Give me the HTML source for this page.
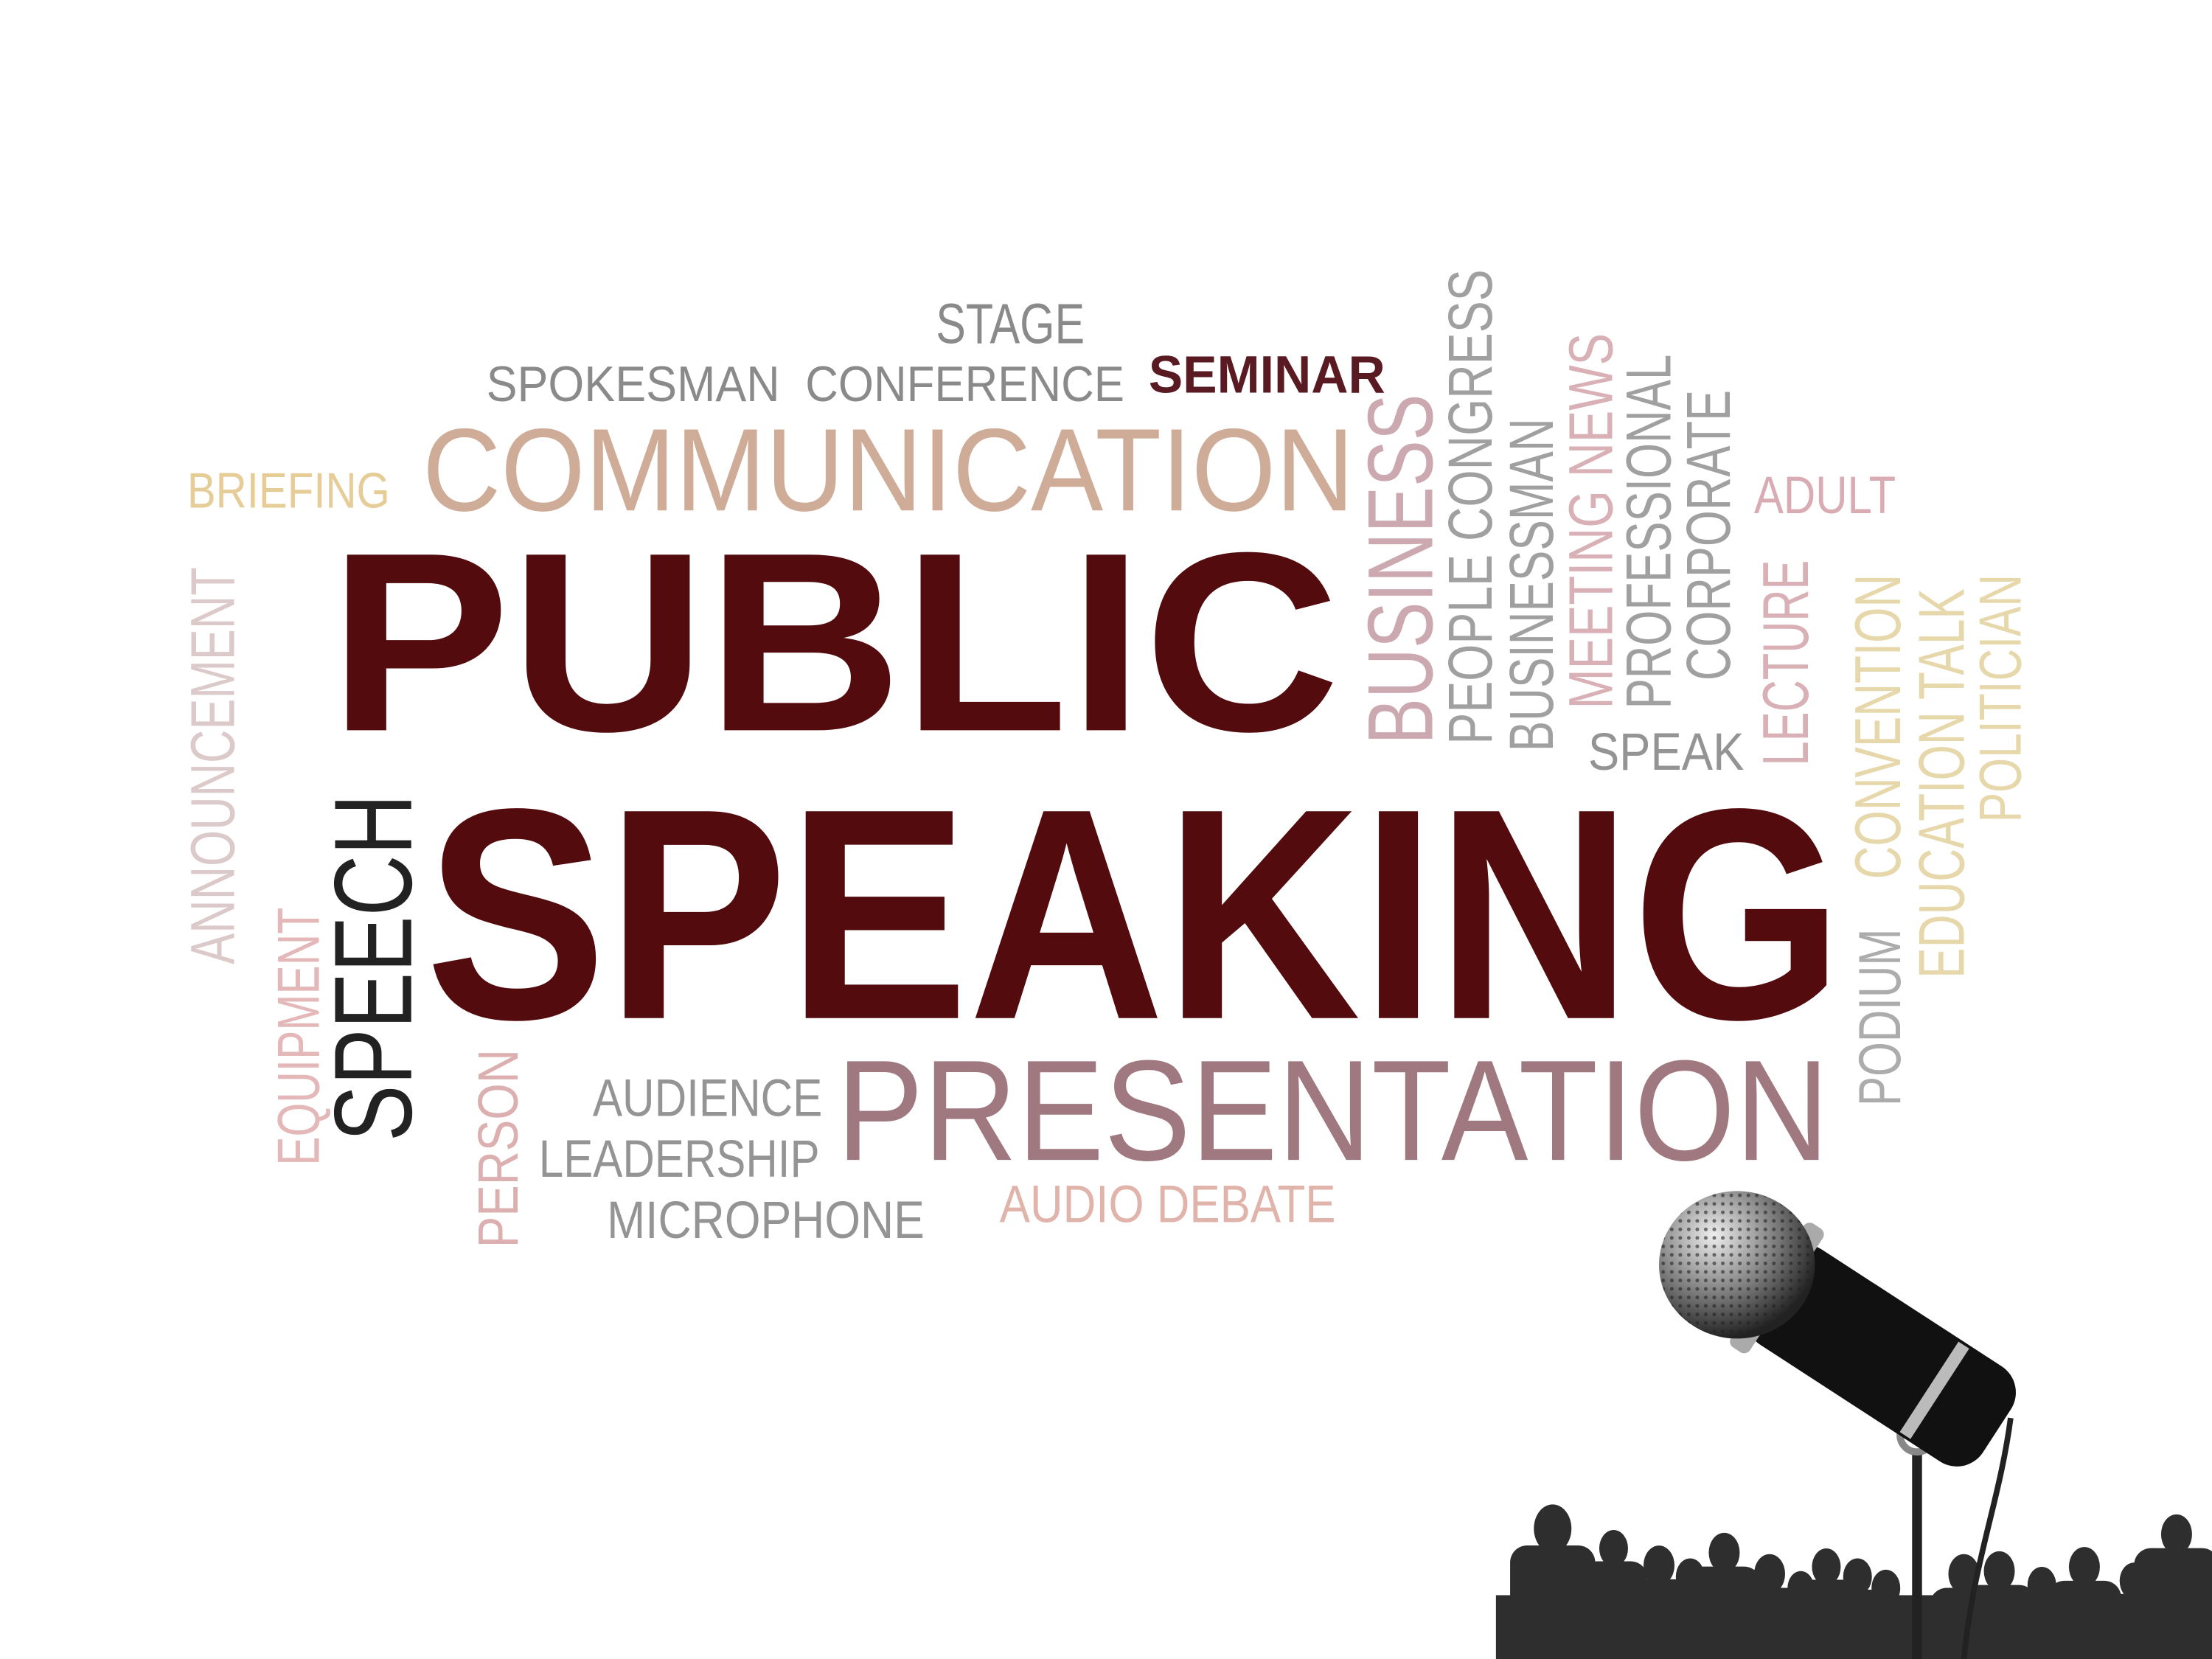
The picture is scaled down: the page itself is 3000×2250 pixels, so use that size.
<!DOCTYPE html>
<html><head><meta charset="utf-8"><style>
html,body{margin:0;padding:0;background:#fff;}
svg{display:block;}
text{font-family:"Liberation Sans",sans-serif;}
</style></head><body>
<svg width="3000" height="2250" viewBox="0 0 1560 1170" xmlns="http://www.w3.org/2000/svg">
<rect width="1560" height="1170" fill="#fff"/>
<g id="words"></g>
<g id="crowd" fill="#2e2e2e">
  <rect x="1055" y="1125" width="505" height="45"/>
</g>
<g>
  <path d="M1352 1012 L1352 1170" stroke="#222" stroke-width="7"/>
  <path d="M1418 1000 C1410 1060 1392 1100 1385 1170" stroke="#222" stroke-width="4" fill="none"/>
  <circle cx="1352" cy="1012" r="12" fill="#fff" stroke="#888" stroke-width="5"/>
  <g transform="translate(1228,892) rotate(33)">
    <rect x="20" y="-40" width="195" height="80" rx="22" fill="#111"/>
    <rect x="158" y="-38" width="9" height="76" fill="#bbb"/>
    <rect x="22" y="-52" width="16" height="104" rx="5" fill="#aaa"/>
  </g>
  <defs><radialGradient id="hg" cx="0.35" cy="0.3" r="0.7"><stop offset="0" stop-color="#eee"/><stop offset="0.6" stop-color="#777"/><stop offset="1" stop-color="#222"/></radialGradient>
  <pattern id="dots" width="6" height="6" patternUnits="userSpaceOnUse"><circle cx="3" cy="3" r="1.3" fill="#222" opacity="0.6"/></pattern></defs>
  <ellipse cx="1225" cy="892" rx="55" ry="52" fill="url(#hg)"/>
  <ellipse cx="1225" cy="892" rx="55" ry="52" fill="url(#dots)"/>
</g>
<script>
const words=[
["STAGE",660,242,40,105,"#8a8a8a",0,0],
["SPOKESMAN",343,283,35,207,"#8a8a8a",0,0],
["CONFERENCE",568,283,35,225,"#8a8a8a",0,0],
["SEMINAR",810,277,37,167,"#5a1a22",1,0],
["COMMUNICATION",298,360,83,657,"#cfac98",0,0],
["BRIEFING",132,358,35,143,"#e6cc96",0,0],
["PUBLIC",232,515,180,713,"#530b0e",1,0],
["SPEAKING",300,718,212,1000,"#530b0e",1,0],
["PRESENTATION",590,818,101,700,"#a07880",0,0],
["AUDIENCE",418,787,37,162,"#949494",0,0],
["LEADERSHIP",380,830,37,198,"#949494",0,0],
["MICROPHONE",428,873,37,224,"#949494",0,0],
["AUDIO DEBATE",705,862,37,237,"#e0b4aa",0,0],
["SPEAK",1120,543,37,110,"#949494",0,0],
["ADULT",1237,362,37,100,"#d8acb2",0,0],
["ANNOUNCEMENT",165,680,44,280,"#dccaca",0,1],
["EQUIPMENT",225,822,42,182,"#e4b8b8",0,1],
["SPEECH",290,805,78,245,"#222222",0,1],
["PERSON",365,880,40,140,"#dcb0b0",0,1],
["BUSINESS",1010,525,65,247,"#cca8b0",0,1],
["PEOPLE CONGRESS",1052,525,44,335,"#a0a0a0",0,1],
["BUSINESSMAN",1095,530,44,235,"#a0a0a0",0,1],
["MEETING NEWS",1137,500,44,265,"#d8b0b6",0,1],
["PROFESSIONAL",1178,500,45,250,"#a0a0a0",0,1],
["CORPORATE",1220,480,44,205,"#a0a0a0",0,1],
["LECTURE",1275,540,46,145,"#d8b0b6",0,1],
["CONVENTION",1340,620,46,215,"#e6d8aa",0,1],
["EDUCATION TALK",1385,690,46,275,"#e6d8aa",0,1],
["POLITICIAN",1425,580,42,175,"#e6d8aa",0,1],
["PODIUM",1340,780,42,125,"#acacac",0,1]
];
const NS="http://www.w3.org/2000/svg";
const g=document.getElementById('words');
for(const w of words){
 const t=document.createElementNS(NS,'text');
 
 
 t.textContent=w[0];
 t.setAttribute('font-size',w[3]);
 t.setAttribute('fill',w[5]);
 t.setAttribute('textLength',w[4]);
 t.setAttribute('lengthAdjust','spacingAndGlyphs');
 if(w[6])t.setAttribute('font-weight','bold');
 if(w[7]){t.setAttribute('x',0);t.setAttribute('y',0);t.setAttribute('transform','translate('+w[1]+','+w[2]+') rotate(-90)');}
 else{t.setAttribute('x',w[1]);t.setAttribute('y',w[2]);}
 g.appendChild(t);
}
const people=[[1095,1078,17,30],[1138,1092,13,24],[1170,1104,14,24],[1192,1112,13,22],[1216,1095,14,26],[1248,1110,14,24],[1270,1120,12,20],[1288,1105,13,24],[1310,1112,13,22],[1330,1120,13,22],[1385,1110,14,24],[1410,1108,14,26],[1440,1118,13,22],[1470,1105,14,26],[1505,1115,13,22],[1535,1082,14,30],[1552,1112,11,22]];
const c=document.getElementById('crowd');
for(const p of people){
 const h=document.createElementNS(NS,'ellipse');
 
 
 h.setAttribute('cx',p[0]);h.setAttribute('cy',p[1]);h.setAttribute('rx',p[2]*0.78);h.setAttribute('ry',p[2]);
 c.appendChild(h);
 const b=document.createElementNS(NS,'rect');
 
 
 b.setAttribute('x',p[0]-p[3]);b.setAttribute('y',p[1]+p[2]*0.7);b.setAttribute('width',p[3]*2);b.setAttribute('height',1170-p[1]);b.setAttribute('rx',12);
 c.appendChild(b);
}
</script>
</svg>
</body></html>
